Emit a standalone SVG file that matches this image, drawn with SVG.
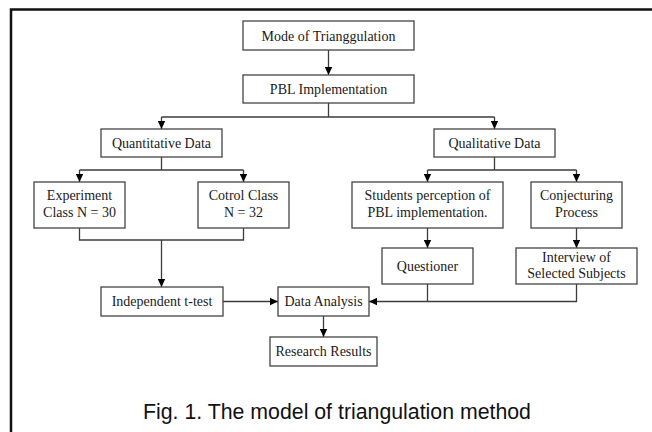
<svg xmlns="http://www.w3.org/2000/svg" width="652" height="432" viewBox="0 0 652 432">
  <style>
    .box { fill: #ffffff; stroke: #444444; stroke-width: 1.3; }
    .lbl { font-family: "Liberation Serif", "Times New Roman", serif; font-size: 14px; fill: #1a1a1a; text-anchor: middle; }
    .wire { fill: none; stroke: #3c3c3c; stroke-width: 1.3; }
    .arrow { marker-end: url(#head); }
    .caption { font-family: "Liberation Sans", Arial, sans-serif; font-size: 21.3px; fill: #111111; text-anchor: middle; }
  </style>
  <defs>
    <marker id="head" viewBox="0 0 8 8" refX="8" refY="4" markerWidth="8" markerHeight="8" markerUnits="userSpaceOnUse" orient="auto">
      <path d="M0,0.3 L8,4 L0,7.7 z" fill="#000000"/>
    </marker>
  </defs>

  <rect width="652" height="432" fill="#ffffff"/>
  <!-- page frame -->
  <path d="M11,432 V9.5 H652" fill="none" stroke="#111111" stroke-width="2.5"/>

  <!-- connectors -->
  <g id="connectors">
    <path class="wire arrow" d="M328.5,50 V75"/>
    <path class="wire" d="M328.5,103 V117 M161.5,117 H494.5"/>
    <path class="wire arrow" d="M161.5,117 V129"/>
    <path class="wire arrow" d="M494.5,117 V129"/>

    <path class="wire" d="M161.5,157 V170 M79.5,170 H243.5"/>
    <path class="wire arrow" d="M79.5,170 V182"/>
    <path class="wire arrow" d="M243.5,170 V182"/>

    <path class="wire" d="M494.5,157 V170 M427.5,170 H576.5"/>
    <path class="wire arrow" d="M427.5,170 V182"/>
    <path class="wire arrow" d="M576.5,170 V182"/>

    <path class="wire" d="M79.5,228 V240 H243.5 V228"/>
    <path class="wire arrow" d="M161.5,240 V287"/>

    <path class="wire arrow" d="M427.5,228 V248"/>
    <path class="wire arrow" d="M576.5,228 V248"/>

    <path class="wire arrow" d="M223,301.5 H278"/>
    <path class="wire" d="M427.5,284 V301.5"/>
    <path class="wire arrow" d="M576.5,284 V301.5 H369"/>

    <path class="wire arrow" d="M323.5,316 V337"/>
  </g>

  <!-- nodes -->
  <g id="mode">
    <rect class="box" x="243" y="21" width="171" height="29"/>
    <text class="lbl" x="328.5" y="40.5">Mode of Trianggulation</text>
  </g>
  <g id="pbl">
    <rect class="box" x="243" y="75" width="171" height="28"/>
    <text class="lbl" x="328.5" y="94">PBL Implementation</text>
  </g>
  <g id="quantitative">
    <rect class="box" x="101" y="129" width="121" height="28"/>
    <text class="lbl" x="161.5" y="148">Quantitative Data</text>
  </g>
  <g id="qualitative">
    <rect class="box" x="434" y="129" width="121" height="28"/>
    <text class="lbl" x="494.5" y="148">Qualitative Data</text>
  </g>
  <g id="experiment">
    <rect class="box" x="34" y="182" width="91" height="46"/>
    <text class="lbl" x="79.5" y="200">Experiment</text>
    <text class="lbl" x="79.5" y="217">Class N = 30</text>
  </g>
  <g id="control">
    <rect class="box" x="198" y="182" width="91" height="46"/>
    <text class="lbl" x="243.5" y="200">Cotrol Class</text>
    <text class="lbl" x="243.5" y="217">N = 32</text>
  </g>
  <g id="perception">
    <rect class="box" x="352" y="182" width="151" height="46"/>
    <text class="lbl" x="427.5" y="200">Students perception of</text>
    <text class="lbl" x="427.5" y="217">PBL implementation.</text>
  </g>
  <g id="conjecturing">
    <rect class="box" x="531" y="182" width="91" height="46"/>
    <text class="lbl" x="576.5" y="200">Conjecturing</text>
    <text class="lbl" x="576.5" y="217">Process</text>
  </g>
  <g id="questioner">
    <rect class="box" x="382" y="248" width="91" height="36"/>
    <text class="lbl" x="427.5" y="271">Questioner</text>
  </g>
  <g id="interview">
    <rect class="box" x="516" y="248" width="121" height="36"/>
    <text class="lbl" x="576.5" y="262">Interview of</text>
    <text class="lbl" x="576.5" y="278">Selected Subjects</text>
  </g>
  <g id="ttest">
    <rect class="box" x="101" y="287" width="122" height="29"/>
    <text class="lbl" x="162" y="306">Independent t-test</text>
  </g>
  <g id="analysis">
    <rect class="box" x="278" y="287" width="91" height="29"/>
    <text class="lbl" x="323.5" y="306">Data Analysis</text>
  </g>
  <g id="results">
    <rect class="box" x="270" y="337" width="107" height="29"/>
    <text class="lbl" x="323.5" y="356">Research Results</text>
  </g>

  <text class="caption" x="337" y="418.5">Fig. 1. The model of triangulation method</text>
</svg>
